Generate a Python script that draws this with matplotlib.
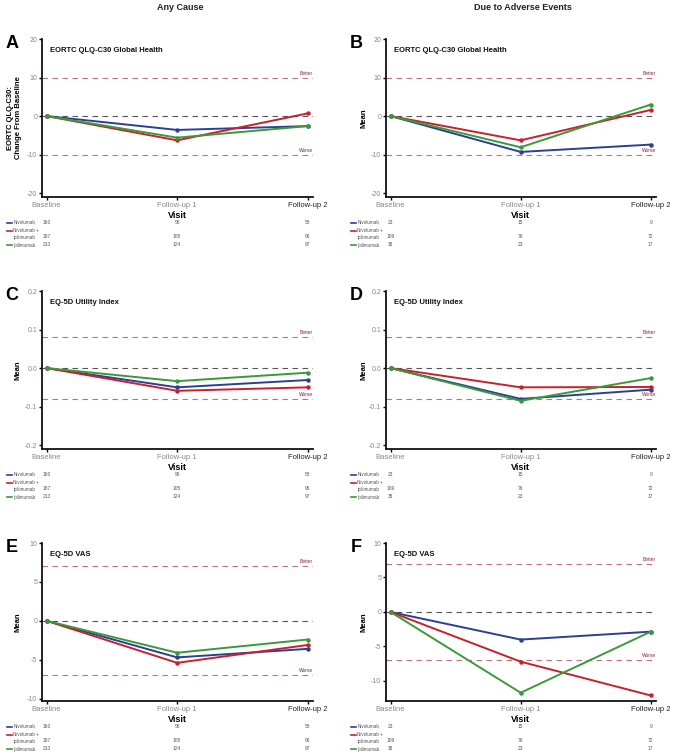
import matplotlib
matplotlib.use("Agg")
import matplotlib.pyplot as plt
from matplotlib.transforms import blended_transform_factory

plt.rcParams["font.family"] = ["Liberation Sans", "DejaVu Sans"]

VISITS = ["Baseline", "Follow-up 1", "Follow-up 2"]
ARMS = ["Nivolumab", "Nivolumab +\nipilimumab", "Ipilimumab"]
ARM_COLORS = ["#2b3f94", "#c8202c", "#3a9a3a"]

# patients at each visit
N_ANY = [[160, 96, 58], [187, 105, 96], [213, 124, 97]]
N_AE = [[23, 15, 9], [109, 76, 72], [35, 23, 17]]

# mean change from baseline (nivo, nivo+ipi, ipi)
QLQ_ANY = [[0, -3.6, -2.6], [0, -6.3, 0.7], [0, -5.6, -2.6]]
QLQ_AE = [[0, -9.3, -7.4], [0, -6.3, 1.6], [0, -8.1, 3.0]]
UTIL_ANY = [[0, -0.050, -0.031], [0, -0.059, -0.050], [0, -0.034, -0.012]]
UTIL_AE = [[0, -0.080, -0.056], [0, -0.050, -0.049], [0, -0.085, -0.026]]
VAS_ANY = [[0, -4.7, -3.6], [0, -5.4, -3.1], [0, -4.1, -2.4]]
VAS_AE = [[0, -4.0, -2.85], [0, -7.2, -12.1], [0, -11.7, -2.85]]

FIG_W, FIG_H = 673, 755
COL_X = [(42, 313), (386, 656)]
ROW_Y = [(39, 197), (291, 449), (543, 701)]

PANELS = [
    ("A", 0, 0, "EORTC QLQ-C30 Global Health", QLQ_ANY, N_ANY, (-21.0, 20), [-20, -10, 0, 10, 20], 10, "EORTC QLQ-C30:\nChange From Baseline", "{:.0f}"),
    ("B", 0, 1, "EORTC QLQ-C30 Global Health", QLQ_AE, N_AE, (-21.0, 20), [-20, -10, 0, 10, 20], 10, "Mean", "{:.0f}"),
    ("C", 1, 0, "EQ-5D Utility Index", UTIL_ANY, N_ANY, (-0.21, 0.2), [-0.2, -0.1, 0.0, 0.1, 0.2], 0.08, "Mean", "{:.1f}"),
    ("D", 1, 1, "EQ-5D Utility Index", UTIL_AE, N_AE, (-0.21, 0.2), [-0.2, -0.1, 0.0, 0.1, 0.2], 0.08, "Mean", "{:.1f}"),
    ("E", 2, 0, "EQ-5D VAS", VAS_ANY, N_ANY, (-10.3, 10), [-10, -5, 0, 5, 10], 7, "Mean", "{:.0f}"),
    ("F", 2, 1, "EQ-5D VAS", VAS_AE, N_AE, (-12.9, 10), [-10, -5, 0, 5, 10], 7, "Mean", "{:.0f}"),
]

fig = plt.figure(figsize=(FIG_W / 100, FIG_H / 100), dpi=100)

fig.text(180 / FIG_W, 1 - 7 / FIG_H, "Any Cause", ha="center", va="center", fontsize=6.5, fontweight="bold", color="#222222")
fig.text(523 / FIG_W, 1 - 7 / FIG_H, "Due to Adverse Events", ha="center", va="center", fontsize=6.5, fontweight="bold", color="#222222")

for letter, row, col, title, values, counts, ylim, yticks, mcid, ylabel, fmt in PANELS:
    x0, x1 = COL_X[col]
    y0, y1 = ROW_Y[row]
    ax = fig.add_axes([x0 / FIG_W, 1 - y1 / FIG_H, (x1 - x0) / FIG_W, (y1 - y0) / FIG_H])

    ax.axhline(0, color="#555555", lw=0.8, ls=(0, (5, 4)))
    ax.axhline(mcid, color="#c07080", lw=0.8, ls=(0, (5, 4)))
    ax.axhline(-mcid, color="#c07080", lw=0.8, ls=(0, (5, 4)))

    span = ylim[1] - ylim[0]
    ax.text(2.04, mcid + span * 0.012, "Better", ha="right", va="bottom", fontsize=3.5, color="#8c2045")
    ax.text(2.04, -mcid + span * 0.012, "Worse", ha="right", va="bottom", fontsize=3.5, color="#8c2045")

    for i in range(len(ARMS)):
        ax.plot(range(len(VISITS)), values[i], color=ARM_COLORS[i], lw=1.4, marker="o", ms=2.2, clip_on=False, zorder=3)

    ax.set_xlim(-0.035, 2.04)
    ax.set_ylim(*ylim)
    ax.set_yticks(yticks)
    ax.set_yticklabels([fmt.format(t) for t in yticks])
    ax.set_xticks(range(len(VISITS)))
    ax.set_xticklabels(VISITS)
    ax.get_xticklabels()[2].set_color("#222222")
    for lab in ax.get_xticklabels()[:2]:
        lab.set_color("#888888")

    for s in ["top", "right"]:
        ax.spines[s].set_visible(False)
    for s in ["left", "bottom"]:
        ax.spines[s].set_linewidth(1.3)
        ax.spines[s].set_color("#111111")
    ax.tick_params(axis="y", length=2.5, width=1.0, pad=1, labelsize=5, labelcolor="#888888")
    ax.tick_params(axis="x", length=2.5, width=1.0, pad=1, labelsize=5.5)

    ax.set_ylabel(ylabel, fontsize=5.5, fontweight="bold", linespacing=1.1)
    ax.yaxis.set_label_coords(-0.074 if col == 0 else -0.07, 0.5)

    ax.text(0.03, 0.925, title, transform=ax.transAxes, fontsize=5.5, fontweight="bold", va="center", color="#111111")
    fig.text((x0 - 30) / FIG_W, 1 - (y0 + 4) / FIG_H, letter, fontsize=13, fontweight="bold", ha="center", va="center")

    # visit label and numbers-at-risk table under the axis
    tr = blended_transform_factory(ax.transData, ax.transAxes)
    h = y1 - y0
    ax.text(1, -18 / h, "Visit", transform=tr, ha="center", va="center", fontsize=6.5, fontweight="bold")
    row_y = [-26 / h, -40 / h, -48 / h]
    label_y = [-26 / h, -37 / h, -48 / h]
    for i in range(len(ARMS)):
        ax.plot([-0.13, -0.111], [row_y[i] if i != 1 else -34 / h] * 2, transform=ax.transAxes, color=ARM_COLORS[i], lw=1.2, clip_on=False)
        ax.text(-0.106, label_y[i], ARMS[i], transform=ax.transAxes, ha="left", va="center", fontsize=3.3, color="#555555", linespacing=1.3)
        for j in range(len(VISITS)):
            ax.text(j, row_y[i], str(counts[i][j]), transform=tr, ha="center", va="center", fontsize=3.5, color="#555555")

fig.savefig("out.png", dpi=100)
